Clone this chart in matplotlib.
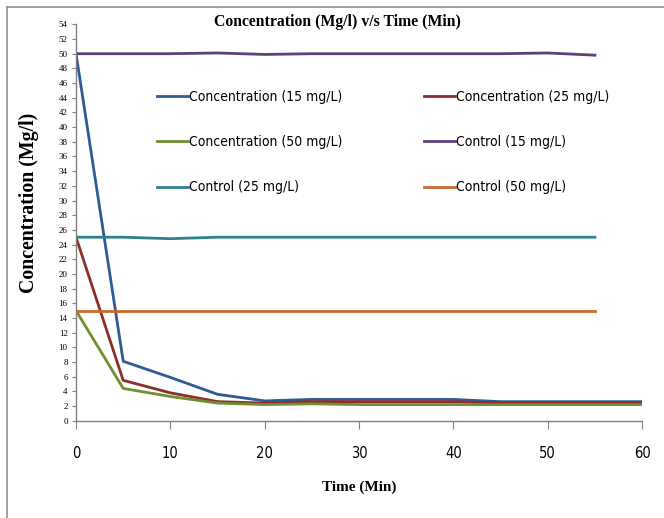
import matplotlib
matplotlib.use("Agg")
import matplotlib.pyplot as plt
from matplotlib import font_manager
from matplotlib.lines import Line2D

# 시간 (분)
time_conc = [0, 5, 10, 15, 20, 25, 30, 35, 40, 45, 50, 55, 60]
time_ctrl = [0, 5, 10, 15, 20, 25, 30, 35, 40, 45, 50, 55]

# 농도 측정값
conc_15 = [50, 8.1, 5.9, 3.6, 2.7, 2.9, 2.9, 2.9, 2.9, 2.6, 2.6, 2.6, 2.6]
conc_25 = [25, 5.5, 3.8, 2.6, 2.4, 2.6, 2.6, 2.6, 2.6, 2.4, 2.4, 2.4, 2.4]
conc_50 = [15, 4.4, 3.3, 2.4, 2.2, 2.3, 2.2, 2.2, 2.2, 2.2, 2.2, 2.2, 2.2]

# 대조군
ctrl_15 = [50, 50, 50, 50.1, 49.9, 50, 50, 50, 50, 50, 50.1, 49.8]
ctrl_25 = [25, 25, 24.8, 25, 25, 25, 25, 25, 25, 25, 25, 25]
ctrl_50 = [15, 15, 15, 15, 15, 15, 15, 15, 15, 15, 15, 15]

x_ticks = [0, 10, 20, 30, 40, 50, 60]
y_ticks = list(range(0, 56, 2))

SERIF = ["Liberation Serif", "DejaVu Serif"]

# 좁은 글꼴 찾기 (Calibri 대용)
narrow_file = None
for f in font_manager.fontManager.ttflist:
    if ("Narrow" in f.name or f.stretch in ("condensed", "semi-condensed")) and f.weight in (400, "normal", "regular"):
        if f.style == "normal":
            narrow_file = f.fname
            break


def narrow(size):
    if narrow_file:
        return font_manager.FontProperties(fname=narrow_file, size=size)
    return font_manager.FontProperties(family="Liberation Sans", size=size * 0.85)


fig = plt.figure(figsize=(6.64, 5.18), dpi=100)
ax = fig.add_axes([0.1145, 0.1878, 0.8525, 0.7652])

lw = 2.0
l_c15, = ax.plot(time_conc, conc_15, color="#2D5B95", lw=lw, label="Concentration (15 mg/L)")
l_c25, = ax.plot(time_conc, conc_25, color="#8E2E2C", lw=lw, label="Concentration (25 mg/L)")
l_c50, = ax.plot(time_conc, conc_50, color="#6F8F30", lw=lw, label="Concentration (50 mg/L)")
l_k15, = ax.plot(time_ctrl, ctrl_15, color="#5B4079", lw=lw, label="Control (15 mg/L)")
l_k25, = ax.plot(time_ctrl, ctrl_25, color="#2F8190", lw=lw, label="Control (25 mg/L)")
l_k50, = ax.plot(time_ctrl, ctrl_50, color="#C7692A", lw=lw, label="Control (50 mg/L)")

ax.set_xlim(0, 60)
ax.set_ylim(0, 54)
ax.set_xticks(x_ticks)
ax.set_yticks(y_ticks)

for s in ["top", "right"]:
    ax.spines[s].set_visible(False)
for s in ["left", "bottom"]:
    ax.spines[s].set_color("#808080")
    ax.spines[s].set_linewidth(1.0)

ax.tick_params(axis="x", direction="out", length=6, color="#808080", pad=12)
ax.tick_params(axis="y", direction="out", length=3, color="#808080", pad=3)
for t in ax.get_xticklabels():
    t.set_fontproperties(narrow(10.5))
for t in ax.get_yticklabels():
    t.set_fontfamily(SERIF)
    t.set_fontsize(6.5)

fig.text(0.508, 0.958, "Concentration (Mg/l) v/s Time (Min)", ha="center", va="center",
         fontsize=11.3, fontweight="bold", family=SERIF)
fig.text(0.541, 0.06, "Time (Min)", ha="center", va="center",
         fontsize=11, fontweight="bold", family=SERIF)
fig.text(0.044, 0.608, "Concentration (Mg/l)", ha="center", va="center", rotation=90,
         fontsize=14.3, fontweight="bold", family=SERIF)

# 범례 (행 순서 맞추기 위해 열 단위로 배치)
handles = [l_c15, l_c50, l_k25, l_c25, l_k15, l_k50]
leg = fig.legend(handles=handles, labels=[h.get_label() for h in handles], ncol=2,
                 loc="upper left", bbox_to_anchor=(157 / 664, 1 - 90 / 518),
                 frameon=False, borderpad=0, borderaxespad=0, handlelength=2.2,
                 handletextpad=0.1, labelspacing=2.25, columnspacing=5.9,
                 prop=narrow(10))

# 그림 테두리 (위, 왼쪽)
fig.add_artist(Line2D([7 / 664, 1], [1 - 7 / 518, 1 - 7 / 518], color="#909090", lw=1.2))
fig.add_artist(Line2D([7 / 664, 7 / 664], [0, 1 - 7 / 518], color="#909090", lw=1.2))

fig.savefig("out.png", dpi=100)
